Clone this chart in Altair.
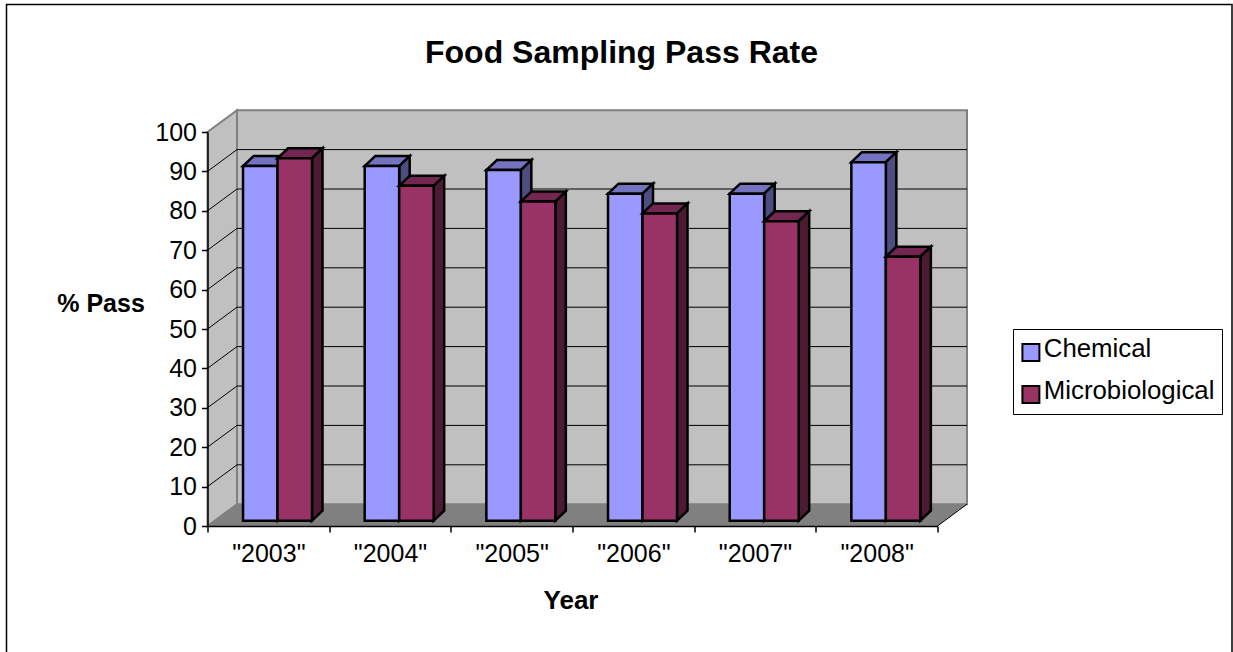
import json
import altair as alt
import pandas as pd

YEARS = ['"2003"', '"2004"', '"2005"', '"2006"', '"2007"', '"2008"']
CHEMICAL = [90, 90, 89, 83, 83, 91]
MICROBIOLOGICAL = [92, 85, 81, 78, 76, 67]
SERIES = ["Chemical", "Microbiological"]
FRONT = ["#9999FF", "#993366"]
TOP = ["#7373BF", "#732650"]
SIDE = ["#4D4D80", "#4D1A33"]
GRID_LEVELS = list(range(10, 100, 10))

# Plot box and the oblique projection, in axis units.
W, H = 730, 394
PX_X = 6 / W
PX_Y = 100 / H
WALL_DX, WALL_DY = 29.5 * PX_X, 21.8 * PX_Y
BAR_DX, BAR_DY = 10.5 * PX_X, 10.0 * PX_Y
BASE_Y = 5.3 * PX_Y
BAR_LEFT = 0.292
BAR_W = 0.2835
FONT = "Liberation Sans"

xs = alt.Scale(domain=[0, 6], nice=False, zero=False)
ys = alt.Scale(domain=[0, 100], nice=False, zero=False)
X = lambda f, **k: alt.X(f, type="quantitative", scale=xs, axis=None, title=None, **k)
Y = lambda f, **k: alt.Y(f, type="quantitative", scale=ys, axis=None, title=None, **k)
X2 = lambda f: alt.X2(f)
Y2 = lambda f: alt.Y2(f)

# Bar faces
fronts, tops, sides = [], [], []
for s, values in enumerate([CHEMICAL, MICROBIOLOGICAL]):
    for i, v in enumerate(values):
        x0 = i + BAR_LEFT + s * BAR_W
        x1 = x0 + BAR_W
        top = BASE_Y + v
        bar = f"{s}-{i}"
        fronts.append(dict(series=SERIES[s], s=s, x0=x0, x1=x1, y0=BASE_Y, y1=top))
        tops += [
            dict(s=s, bar=bar, y=top, xa=x0, xb=x1),
            dict(s=s, bar=bar, y=top + BAR_DY, xa=x0 + BAR_DX, xb=x1 + BAR_DX),
        ]
        sides += [
            dict(s=s, bar=bar, x=x1, ya=top, yb=BASE_Y),
            dict(s=s, bar=bar, x=x1 + BAR_DX, ya=top + BAR_DY, yb=BASE_Y + BAR_DY),
        ]
fronts, tops, sides = map(pd.DataFrame, (fronts, tops, sides))

# Chart walls and floor
back = pd.DataFrame([dict(x0=WALL_DX, x1=6 + WALL_DX, y0=WALL_DY, y1=100 + WALL_DY)])
left = pd.DataFrame([
    dict(x=0, ya=0, yb=100),
    dict(x=WALL_DX, ya=WALL_DY, yb=100 + WALL_DY),
])
floor = pd.DataFrame([
    dict(y=0, xa=0, xb=6),
    dict(y=WALL_DY, xa=WALL_DX, xb=6 + WALL_DX),
])
edge = pd.DataFrame([dict(x0=6, x1=6 + WALL_DX, y0=0, y1=WALL_DY)])
grid_back = pd.DataFrame([dict(x0=WALL_DX, x1=6 + WALL_DX, y=g + WALL_DY) for g in GRID_LEVELS])
grid_side = pd.DataFrame([dict(x0=0, x1=WALL_DX, y0=g, y1=g + WALL_DY) for g in GRID_LEVELS])

wall_fill = "#C0C0C0"
wall_edge = "#808080"

walls = [
    alt.Chart(back).mark_rect(fill=wall_fill, stroke=wall_edge, strokeWidth=2).encode(
        x=X("x0"), x2=X2("x1"), y=Y("y0"), y2=Y2("y1")),
    alt.Chart(left).mark_area(fill=wall_fill, stroke=wall_edge, strokeWidth=2, orient="vertical").encode(
        x=X("x"), y=Y("ya"), y2=Y2("yb")),
    alt.Chart(floor).mark_area(fill=wall_edge, orient="horizontal").encode(
        y=Y("y"), x=X("xa"), x2=X2("xb")),
    alt.Chart(grid_back).mark_rule(color="black", strokeWidth=1).encode(
        x=X("x0"), x2=X2("x1"), y=Y("y")),
    alt.Chart(grid_side).mark_rule(color="black", strokeWidth=1).encode(
        x=X("x0"), x2=X2("x1"), y=Y("y0"), y2=Y2("y1")),
    alt.Chart(edge).mark_rule(color="black", strokeWidth=1).encode(
        x=X("x0"), x2=X2("x1"), y=Y("y0"), y2=Y2("y1")),
]

# Legend squares sit a little below the centre of their labels
color = alt.Color(
    "series:N",
    scale=alt.Scale(domain=SERIES, range=FRONT),
    legend=alt.Legend(
        title=None,
        orient="none",
        legendX=805.5,
        legendY=197,
        symbolType="M-1.2 -0.7H1.2V1.7H-1.2Z",
        symbolSize=200,
        symbolStrokeColor="black",
        symbolStrokeWidth=2,
        symbolOffset=-2,
        labelFont=FONT,
        labelFontSize=25.8,
        labelColor="black",
        labelLimit=300,
        labelOffset=0,
        rowPadding=12,
        padding=7,
        strokeColor="black",
        fillColor="white",
        cornerRadius=0,
    ),
)

bars = []
for s in range(2):
    bars += [
        alt.Chart(tops[tops.s == s]).mark_area(
            fill=TOP[s], stroke="black", strokeWidth=2.5, orient="horizontal"
        ).encode(y=Y("y"), x=X("xa"), x2=X2("xb"), detail="bar:N"),
        alt.Chart(sides[sides.s == s]).mark_area(
            fill=SIDE[s], stroke="black", strokeWidth=2.5, orient="vertical"
        ).encode(x=X("x"), y=Y("ya"), y2=Y2("yb"), detail="bar:N"),
        alt.Chart(fronts[fronts.s == s]).mark_rect(stroke="black", strokeWidth=2.5).encode(
            x=X("x0"), x2=X2("x1"), y=Y("y0"), y2=Y2("y1"), color=color),
    ]

# Axes carried by an empty layer, drawn above the marks
label_expr = f"datum.value < 6 ? {json.dumps(YEARS)}[datum.value] : ''"
axes = alt.Chart(pd.DataFrame([dict(x=0, y=0)])).mark_point(opacity=0).encode(
    x=alt.X(
        "x:Q",
        scale=xs,
        title="Year",
        axis=alt.Axis(
            zindex=1,
            values=list(range(7)),
            labelExpr=label_expr,
            labelOffset=W / 12,
            labelAngle=0,
            labelAlign="center",
            labelFont=FONT,
            labelFontSize=25,
            labelColor="black",
            labelPadding=9,
            labelOverlap=False,
            labelBound=False,
            labelFlush=False,
            tickColor="black",
            tickSize=6,
            tickWidth=1.5,
            domainColor="black",
            domainWidth=1.5,
            grid=False,
            titleFont=FONT,
            titleFontSize=26,
            titleFontWeight="bold",
            titleColor="black",
            titlePadding=21,
            titleX=W / 2 - 2,
        ),
    ),
    y=alt.Y(
        "y:Q",
        scale=ys,
        title="% Pass",
        axis=alt.Axis(
            zindex=1,
            values=list(range(0, 101, 10)),
            labelFont=FONT,
            labelFontSize=25,
            labelColor="black",
            labelPadding=5,
            labelOverlap=False,
            labelBound=False,
            labelFlush=False,
            tickColor="black",
            tickSize=6,
            tickWidth=1.5,
            domainColor="black",
            domainWidth=1.5,
            grid=False,
            titleFont=FONT,
            titleFontSize=25,
            titleFontWeight="bold",
            titleColor="black",
            titleAngle=0,
            titleAlign="center",
            titleBaseline="middle",
            titleX=-107,
            titleY=171,
        ),
    ),
)

# Outer frame of the chart area
frame = alt.Chart(pd.DataFrame([dict(a=0)])).mark_rect(
    fill="white", stroke="black", strokeWidth=1.5
).encode(
    x=alt.value(-201),
    x2=alt.value(1024.5),
    y=alt.value(-127.5),
    y2=alt.value(560),
)

chart = alt.layer(frame, *walls, *bars, axes).resolve_axis(x="independent", y="independent").properties(
    width=W,
    height=H,
    padding={"left": 207.5, "top": 132, "right": 295.5, "bottom": 126},
    autosize=alt.AutoSizeParams(type="none"),
    background="white",
    title=alt.TitleParams(
        "Food Sampling Pass Rate",
        font=FONT,
        fontSize=32,
        fontWeight="bold",
        color="black",
        anchor="middle",
        dx=49,
        offset=-66,
    ),
).configure_view(stroke=None)

chart.save("out.html", embed_options={"renderer": "svg", "actions": False})
